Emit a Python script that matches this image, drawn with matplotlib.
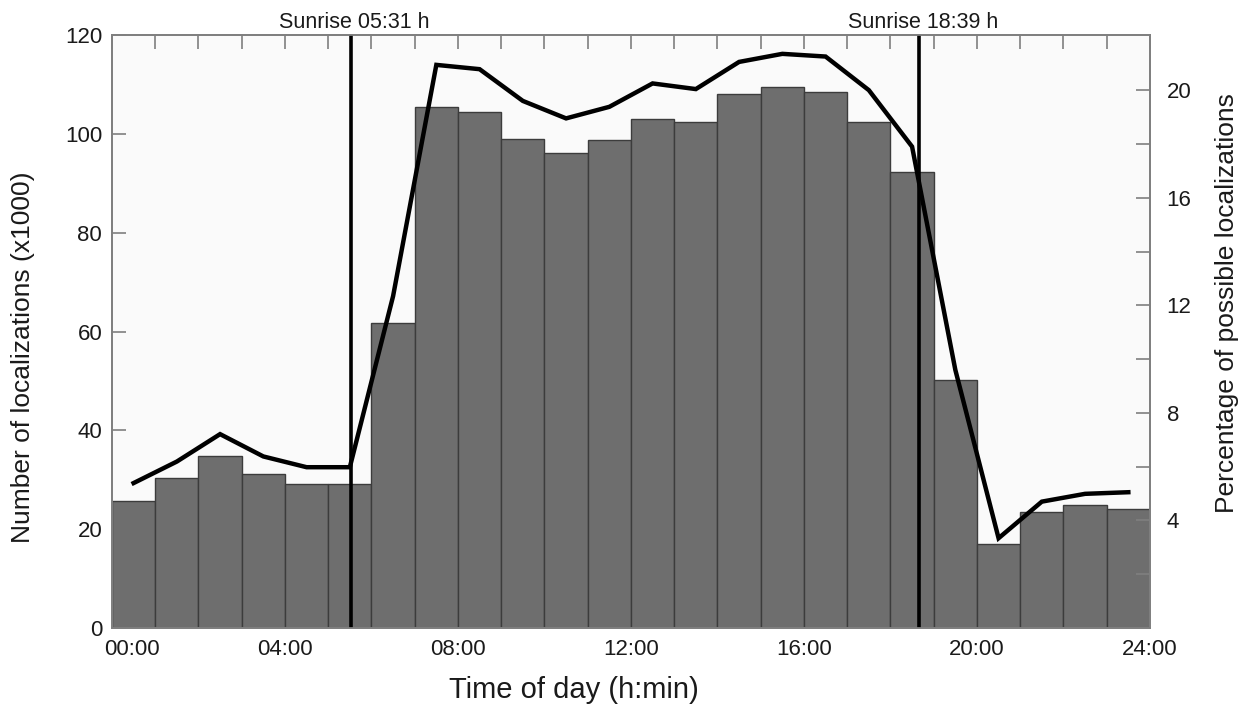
import numpy as np
import matplotlib
matplotlib.use("Agg")
import matplotlib.pyplot as plt
from matplotlib.transforms import ScaledTranslation

plt.rcParams['font.family'] = ['Liberation Sans', 'DejaVu Sans']

# hourly bins, 00:00 - 24:00
hours = np.arange(24)
# number of localizations (x1000), left axis
counts = [25.7, 30.3, 34.9, 31.2, 29.1, 29.2, 61.7, 105.5, 104.4, 98.9, 96.2, 98.8,
          103.0, 102.5, 108.0, 109.4, 108.5, 102.5, 92.2, 50.2, 17.0, 23.5, 24.9, 24.0]
# percentage of possible localizations, right axis
percent = [5.39, 6.19, 7.21, 6.38, 5.98, 5.98, 12.34, 20.94, 20.78, 19.6, 18.95, 19.38,
           20.25, 20.04, 21.05, 21.35, 21.25, 20.0, 17.9, 9.6, 3.34, 4.70, 4.99, 5.05]
xtick_pos = [0, 4, 8, 12, 16, 20, 24]
xtick_labels = ['00:00', '04:00', '08:00', '12:00', '16:00', '20:00', '24:00']
sun_times = [5 + 31 / 60, 18 + 39 / 60]
sun_labels = ['Sunrise 05:31 h', 'Sunrise 18:39 h']

spine_col = '#7f7f7f'
txt_col = '#1a1a1a'

fig = plt.figure(figsize=(12.44, 7.09), dpi=100)
ax = fig.add_axes([0.090, 0.1142, 0.8344, 0.8364])
ax.set_facecolor('#fafafa')

ax.bar(hours, counts, width=1.0, align='edge', color='#6e6e6e',
       edgecolor='#3c3c3c', linewidth=1.0, zorder=2)

for t, lab in zip(sun_times, sun_labels):
    ax.axvline(t, color='black', lw=2.6, zorder=4)
    ax.annotate(lab, xy=(t, 1), xycoords=('data', 'axes fraction'),
                xytext=(3, 5), textcoords='offset points', ha='center',
                va='baseline', fontsize=15.5, color=txt_col)

ax.set_xlim(0, 24)
ax.set_ylim(0, 120)
ax.set_yticks(np.arange(0, 121, 20))
ax.set_xticks(xtick_pos)
ax.set_xticklabels(xtick_labels)
ax.set_xticks(np.arange(1, 24), minor=True)
ax.tick_params(axis='x', which='both', bottom=False, top=True, direction='in',
               length=10, width=1.2, color=spine_col, labelsize=16,
               labelcolor=txt_col, pad=8)
ax.tick_params(axis='y', which='both', left=True, right=False, direction='in',
               length=10, width=1.2, color=spine_col, labelsize=16,
               labelcolor=txt_col, pad=7)
# shift the first time label away from the "0"
lbl0 = ax.get_xticklabels()[0]
lbl0.set_transform(lbl0.get_transform() + ScaledTranslation(0.20, 0, fig.dpi_scale_trans))

ax.set_xlabel('Time of day (h:min)', fontsize=21, color=txt_col)
ax.xaxis.set_label_coords(0.445, -0.105)
ax.xaxis.label.set_va('center')
ax.set_ylabel('Number of localizations (x1000)', fontsize=19, color=txt_col)
ax.yaxis.set_label_coords(-0.086, 0.457)
ax.yaxis.label.set_va('center')

ax2 = ax.twinx()
ax2.plot(hours + 0.5, percent, color='black', lw=3.2, solid_joinstyle='miter', zorder=5)
ax2.set_ylim(0, 22.05)
ax2.set_yticks([4, 8, 12, 16, 20])
ax2.set_yticks([2, 6, 10, 14, 18], minor=True)
ax2.tick_params(axis='y', which='both', right=True, left=False, direction='in',
                length=10, width=1.2, color=spine_col, labelsize=16,
                labelcolor=txt_col, pad=12)
ax2.set_ylabel('Percentage of possible localizations', fontsize=19, color=txt_col)
ax2.yaxis.set_label_coords(1.074, 0.548)
ax2.yaxis.label.set_va('center')

for a in (ax, ax2):
    for s in a.spines.values():
        s.set_color(spine_col)
        s.set_linewidth(1.3)

fig.savefig('out.png', dpi=100)
